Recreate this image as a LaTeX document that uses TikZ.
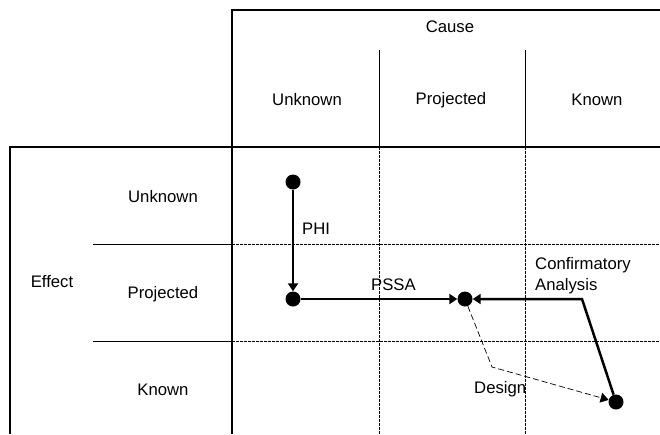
\documentclass[tikz,border=0pt]{standalone}
\usepackage{fontspec}
\setmainfont{Liberation Sans}
\usetikzlibrary{arrows.meta}

\begin{document}
\begin{tikzpicture}[x=1pt,y=-1pt,>={Triangle[length=8pt,width=10pt]},
  font=\fontsize{16.7}{21}\selectfont,
  dot/.style={circle,fill,inner sep=0pt,minimum size=15pt},
  lbl/.style={anchor=west,inner sep=0pt,align=left},
  frame/.style={line width=2.8pt},
  rule/.style={line width=0.7pt},
  grid/.style={line width=0.7pt,dash pattern=on 2.5pt off 1.5pt},
  flow/.style={line width=2.5pt}]
  \useasboundingbox (0,0) rectangle (660,434);
  % table frame
  \draw[frame] (232,434) -- (232,10) -- (660,10);
  \draw[frame] (10,434) -- (10,147) -- (660,147);
  \draw[rule] (379,50) -- (379,147);
  \draw[rule] (525,50) -- (525,147);
  \draw[grid] (379,147) -- (379,434);
  \draw[grid] (525,147) -- (525,434);
  \draw[rule] (93,244) -- (232,244);
  \draw[rule] (93,341) -- (232,341);
  \draw[grid] (232,244) -- (660,244);
  \draw[grid] (232,341) -- (660,341);
  % headings
  \node (cause) at (450,27) {Cause};
  \node (cunk) at (307,100) {Unknown};
  \node (cproj) at (451,100) {Projected};
  \node (ckno) at (597,100) {Known};
  \node (effect) at (52,282) {Effect};
  \node (eunk) at (163,197) {Unknown};
  \node (eproj) at (163,294) {Projected};
  \node (ekno) at (163,390) {Known};
  % states
  \node[dot] (start) at (293,182) {};
  \node[dot] (proj) at (293,299) {};
  \node[dot] (mid) at (465,299) {};
  \node[dot] (fin) at (616,402) {};
  \coordinate (cbend) at (582,299);
  \coordinate (dbend) at (492,367);
  \draw[flow,->] (start) -- (proj);
  \draw[flow,->] (proj) -- (mid);
  \draw[flow,->] (fin) -- (cbend) -- (mid);
  \draw[rule,dash pattern=on 6pt off 3pt,->] (mid) -- (dbend) -- (fin);
  \node[lbl] (phi) at (302,229) {PHI};
  \node[lbl] (pssa) at (371,285) {PSSA};
  \node[lbl] (conf) at (535,276) {Confirmatory\\Analysis};
  \node[lbl] (design) at (474,389) {Design};
\end{tikzpicture}
\end{document}
